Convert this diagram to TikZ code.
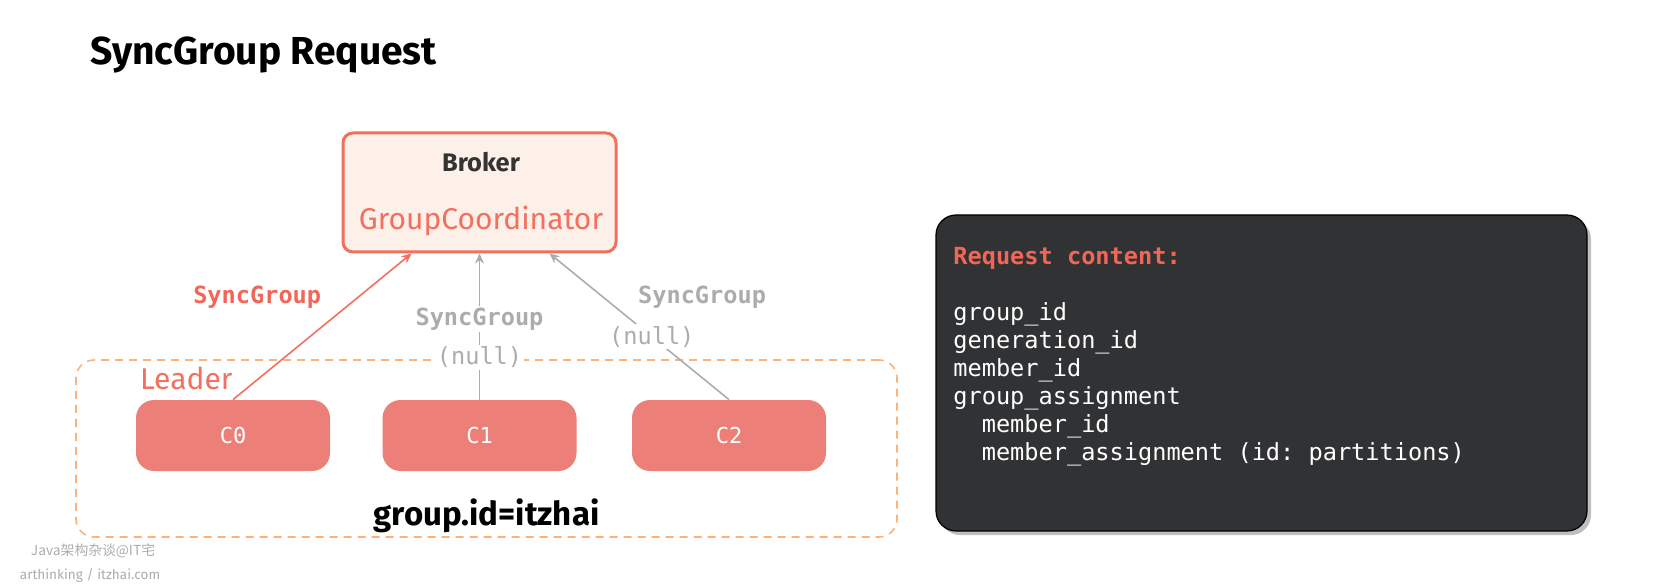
\documentclass[tikz,border=0pt]{standalone}
\usepackage{fontspec}
\setmainfont{Fira Sans}
\setmonofont{DejaVu Sans Mono}
\newfontfamily\cjkfont{Noto Sans CJK SC}
\usetikzlibrary{arrows.meta, positioning}
\definecolor{tomato}{RGB}{243,111,94}
\definecolor{brokerfill}{RGB}{253,240,232}
\definecolor{consumerfill}{RGB}{236,128,121}
\definecolor{labelgray}{RGB}{172,172,172}
\definecolor{groupdash}{RGB}{253,178,122}
\definecolor{darkbg}{RGB}{49,50,52}
\definecolor{reqred}{RGB}{242,102,87}

\begin{document}
\begin{tikzpicture}[x=0.5pt, y=-0.5pt,
    consumer/.style={rectangle, rounded corners=9pt, fill=consumerfill, text=white,
        minimum width=97pt, minimum height=35.5pt, font=\ttfamily\fontsize{11}{13}\selectfont},
    req/.style={-{Stealth[length=5pt, width=4.5pt]}, line width=0.8pt},
    msg/.style={font=\ttfamily\bfseries\fontsize{11.8}{13}\selectfont, inner sep=1pt},
    nullmsg/.style={font=\ttfamily\fontsize{11.8}{13}\selectfont, text=labelgray, fill=white, inner sep=1pt}]
    \useasboundingbox (0,0) rectangle (1664,588);

    \node[anchor=west, font=\bfseries\fontsize{19.5}{22}\selectfont] (title) at (83,55) {SyncGroup Request};

    % Broker
    \node[draw=tomato, line width=1.5pt, fill=brokerfill, rounded corners=5pt,
        minimum width=136.5pt, minimum height=59.5pt] (broker) at (479.5,192.5) {};
    \node[font=\bfseries\fontsize{12.7}{15}\selectfont, text=black!80] (brokername) at (481,162) {Broker};
    \node[font=\fontsize{15}{18}\selectfont, text=tomato] (coord) at (481,221) {GroupCoordinator};

    % Consumer group
    \node[draw=groupdash, line width=0.8pt, dash pattern=on 4pt off 3pt, rounded corners=9pt,
        minimum width=410.5pt, minimum height=88.5pt] (group) at (486.5,448.5) {};
    \node[consumer] (c0) at (233,435.5) {C0};
    \node[consumer] (c1) at (479.5,435.5) {C1};
    \node[consumer] (c2) at (729,435.5) {C2};
    \node[anchor=base west, font=\fontsize{15}{18}\selectfont, text=tomato, inner sep=0pt]
        (leader) at ([xshift=2pt, yshift=5pt]c0.north west) {Leader};
    \node[font=\bfseries\fontsize{16.5}{19}\selectfont] (groupid) at ([yshift=11pt]group.south) {group.id=itzhai};

    % SyncGroup requests
    \draw[req, tomato] (c0.north) -- ([xshift=-34pt]broker.south)
        node[msg, pos=0.7, left=17pt, text=reqred] {SyncGroup};
    \draw[req, labelgray] (c1.north) -- (broker.south)
        node[msg, pos=0.55, fill=white, text=labelgray] {SyncGroup}
        node[nullmsg, pos=0.29] {(null)};
    \draw[req, labelgray] (c2.north) -- ([xshift=35pt]broker.south)
        node[msg, pos=0.7, right=16pt, text=labelgray] {SyncGroup}
        node[nullmsg, pos=0.43] {(null)};

    % Request content
    \fill[black!25, rounded corners=10pt] (940,219) rectangle (1591,535);
    \node[draw=black, line width=0.6pt, fill=darkbg, rounded corners=10pt,
        minimum width=325.5pt, minimum height=158pt] (content) at (1261.5,373) {};
    \node[anchor=north west, align=left, inner sep=0pt, text=white,
        font=\ttfamily\fontsize{11.8}{14}\selectfont] (fields) at (953,247)
        {\textcolor{reqred}{\bfseries Request content:}\\[14pt]
         group\_id\\
         generation\_id\\
         member\_id\\
         group\_assignment\\
         \hspace*{1.204em}member\_id\\
         \hspace*{1.204em}member\_assignment (id: partitions)};

    % Watermark
    \node[font=\cjkfont\fontsize{6.9}{8}\selectfont, text=labelgray] (mark1) at (93,551) {Java架构杂谈@IT宅};
    \node[font=\fontsize{6.8}{8}\selectfont, text=labelgray] (mark2) at (90,575) {arthinking / itzhai.com};
\end{tikzpicture}
\end{document}
